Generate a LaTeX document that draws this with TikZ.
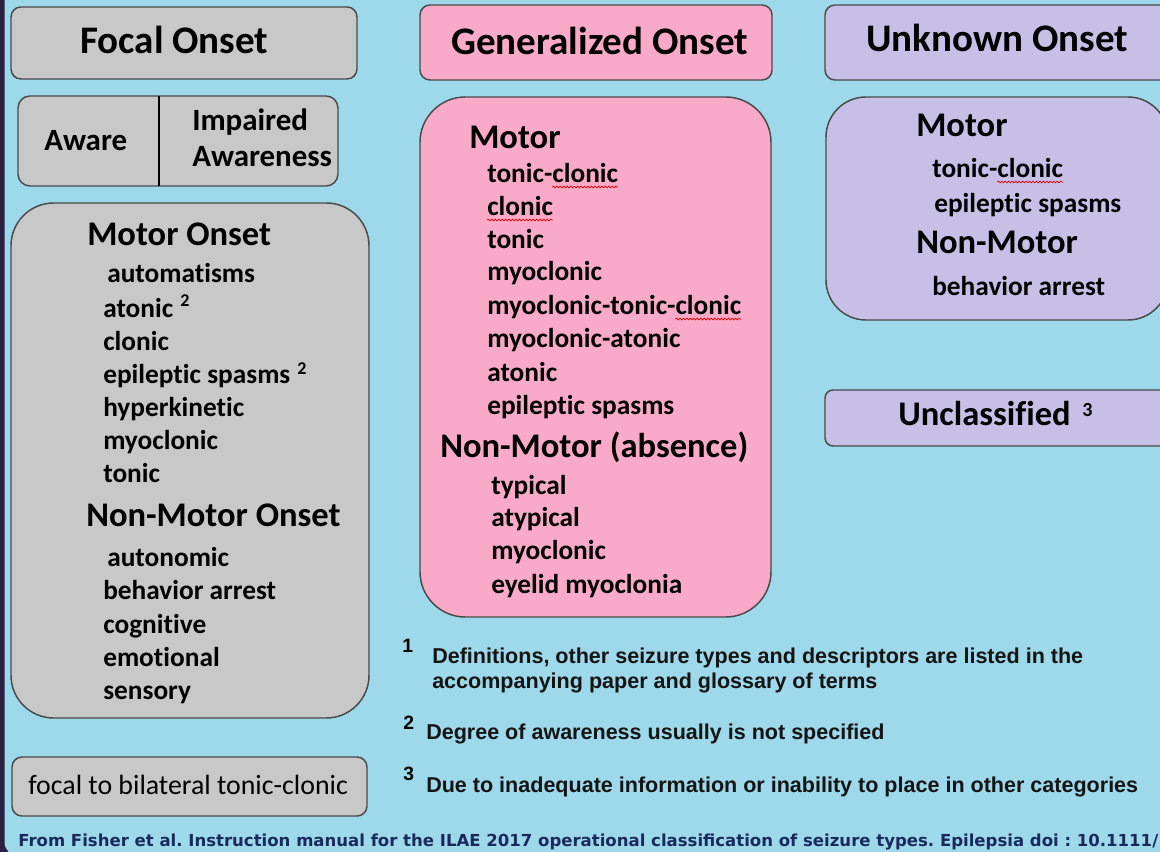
\documentclass[tikz,border=0pt]{standalone}
\usepackage{fontspec}
\setmainfont{Carlito}[Ligatures={NoCommon}]
\newfontfamily\arialf{Liberation Sans}
\newfontfamily\verdf{DejaVu Sans}
\usetikzlibrary{decorations.pathmorphing,calc}
\definecolor{bgblue}{HTML}{9DD9EA}
\definecolor{frameclr}{HTML}{2A2042}
\definecolor{grayf}{HTML}{C8C8C8}
\definecolor{pinkf}{HTML}{F8AAC8}
\definecolor{lavf}{HTML}{C8BFE6}
\definecolor{edgeclr}{HTML}{4A4A4A}
\definecolor{citeclr}{HTML}{1B2A5C}
\newcommand\boxnode[7]{\node[boxshape,#6,minimum width={(#4-#2)*0.75pt},minimum height={(#5-#3)*0.75pt}] (#1) at ({(#2+#4)/2},{(#3+#5)/2}) {#7};}
\frenchspacing
\begin{document}
\begin{tikzpicture}[x=0.75pt,y=-0.75pt,
  boxshape/.style={draw=edgeclr, line width=1.1pt, inner sep=0pt, rectangle},
  grayb/.style={fill=grayf},
  pinkb/.style={fill=pinkf},
  lavb/.style={fill=lavf},
  txt/.style={anchor=base west, inner sep=0pt, text=black},
  titletxt/.style={txt, font=\bfseries\fontsize{29.3pt}{35pt}\selectfont},
  headtxt/.style={txt, font=\bfseries\fontsize{25.9pt}{30pt}\selectfont},
  itemtxt/.style={txt, font=\bfseries\fontsize{20.5pt}{24pt}\selectfont},
  awtxt/.style={txt, font=\bfseries\fontsize{23.2pt}{27pt}\selectfont},
  suptxt/.style={txt, font=\bfseries\fontsize{13.5pt}{16pt}\selectfont},
  fntxt/.style={txt, font=\arialf\bfseries\fontsize{16.15pt}{19pt}\selectfont, text=black!92},
  fnsup/.style={txt, font=\arialf\bfseries\fontsize{14.5pt}{17pt}\selectfont},
  squig/.style={draw=red!85!black, line width=0.55pt, decorate, decoration={snake, amplitude=0.6pt, segment length=2.6pt}}
]
\useasboundingbox (0,0) rectangle (1160,852);
\fill[frameclr] (0,0) rectangle (1160,852);
\fill[bgblue, rounded corners=10.5pt] (4.5,-30) rectangle (1200,856);

% ---------- boxes ----------
\boxnode{focalT}{11}{7}{357}{79}{grayb, rounded corners=7.5pt}{}
\boxnode{awareB}{18}{96}{338}{186}{grayb, rounded corners=9pt}{}
\boxnode{focalM}{11}{203}{369}{718}{grayb, rounded corners=32pt}{}
\boxnode{bilat}{12}{757}{367}{816}{grayb, rounded corners=7.5pt}{}
\boxnode{genT}{420}{5}{772}{80}{pinkb, rounded corners=7.5pt}{}
\boxnode{genM}{420}{97}{771}{617}{pinkb, rounded corners=34pt}{}
\boxnode{unkT}{825}{5}{1180}{80}{lavb, rounded corners=7.5pt}{}
\boxnode{unkM}{826}{97}{1168}{320}{lavb, rounded corners=30pt}{}
\boxnode{uncl}{825}{390}{1180}{446}{lavb, rounded corners=6pt}{}

\coordinate (divtop) at (159,96);
\coordinate (divbot) at (159,186);
\draw[black, line width=2.2pt] (divtop) -- (divbot);

% ---------- titles ----------
\node[titletxt] (tFocal) at (80,54) {Focal Onset};
\node[titletxt] (tGen) at (451,55) {Generalized Onset};
\node[titletxt] (tUnk) at (866,52) {Unknown Onset};

\node[awtxt] (tAware) at (44,151) {Aware};
\node[awtxt] (tImp1) at (192,131) {Impaired};
\node[awtxt] (tImp2) at (192,167) {Awareness};

% ---------- focal ----------
\node[headtxt] (fMotor) at (87,246) {Motor Onset};
\foreach \t/\x/\y [count=\i] in {automatisms/107/283, atonic/103/317, clonic/103/350,
  epileptic spasms/103/383, hyperkinetic/103/416, myoclonic/103/449, tonic/103/482}
  \node[itemtxt] (fm\i) at (\x,\y) {\t};
\node[suptxt] (sup1) at (180,306) {2};
\node[suptxt] (sup2) at (297,374) {2};
\node[headtxt] (fNon) at (86,526) {Non-Motor Onset};
\foreach \t/\x/\y [count=\i] in {autonomic/107/566, behavior arrest/103/599, cognitive/103/633,
  emotional/103/666, sensory/103/699}
  \node[itemtxt] (fn\i) at (\x,\y) {\t};

\node[txt, font=\fontsize{20.9pt}{25pt}\selectfont] (tBilat) at (28,794) {focal to bilateral tonic-clonic};

% ---------- generalized ----------
\node[headtxt] (gMotor) at (469,149) {Motor};
\foreach \t/\y [count=\i] in {tonic-clonic/183, clonic/216, tonic/249, myoclonic/281,
  myoclonic-tonic-clonic/315, myoclonic-atonic/348, atonic/381, epileptic spasms/414}
  \node[itemtxt] (gm\i) at (487,\y) {\t};
\node[headtxt] (gNon) at (440,457) {Non-Motor (absence)};
\foreach \t/\y [count=\i] in {typical/494, atypical/526, myoclonic/559, eyelid myoclonia/593}
  \node[itemtxt] (gn\i) at (491,\y) {\t};

% ---------- unknown ----------
\node[headtxt] (uMotor) at (916,137) {Motor};
\node[itemtxt] (um1) at (932,178) {tonic-clonic};
\node[itemtxt] (um2) at (934,213) {epileptic spasms};
\node[headtxt] (uNon) at (916,254) {Non-Motor};
\node[itemtxt] (un1) at (932,296) {behavior arrest};
\node[headtxt] (tUncl) at (898,425) {Unclassified};
\node[suptxt, font=\bfseries\fontsize{15pt}{18pt}\selectfont] (sup3) at (1082,416) {3};

% ---------- spell-check squiggles ----------
\foreach \n in {gm1, gm2, gm5, um1}
  \draw[squig] ($(\n.base east)+(-66,4)$) -- ($(\n.base east)+(0,4)$);

% ---------- footnotes ----------
\node[fnsup] (f1n) at (402,652) {1};
\node[fntxt] (f1a) at (432,663) {Definitions, other seizure types and descriptors are listed in the};
\node[fntxt] (f1b) at (432,688) {accompanying paper and glossary of terms};
\node[fnsup] (f2n) at (403,729) {2};
\node[fntxt] (f2) at (426,739) {Degree of awareness usually is not specified};
\node[fnsup] (f3n) at (403,780) {3};
\node[fntxt] (f3) at (426,792) {Due to inadequate information or inability to place in other categories};

\node[txt, font=\verdf\bfseries\fontsize{12.4pt}{15pt}\selectfont, text=citeclr] (cite) at (18,846)
  {From Fisher et al. Instruction manual for the ILAE 2017 operational classification of seizure types. Epilepsia doi : 10.1111/};
\end{tikzpicture}
\end{document}
